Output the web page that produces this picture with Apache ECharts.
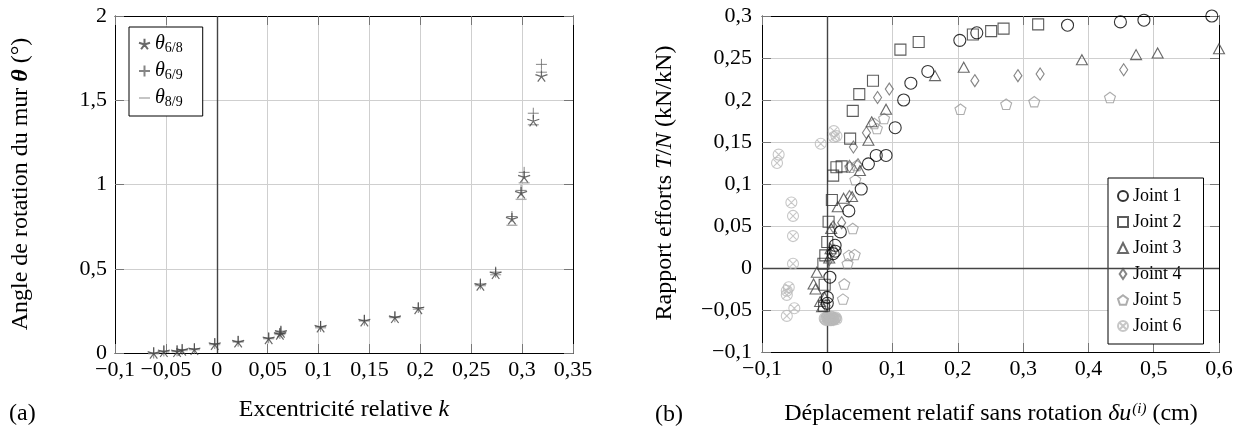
<!DOCTYPE html>
<html><head><meta charset="utf-8">
<script src="https://cdn.jsdelivr.net/npm/echarts@6/dist/echarts.min.js"></script>
<style>html,body{margin:0;padding:0;background:#fff}#c{width:1243px;height:429px}</style>
</head><body><div id="c"></div>
<script>
// ---------- Panel (a) data ----------
const kValues = [-0.062, -0.052, -0.039, -0.034, -0.022, -0.002, 0.021, 0.051, 0.062, 0.063, 0.102, 0.145, 0.175, 0.198, 0.259, 0.274, 0.290, 0.299, 0.302, 0.311, 0.319];
const theta68 = [0.000, 0.010, 0.010, 0.018, 0.022, 0.053, 0.067, 0.087, 0.113, 0.125, 0.156, 0.192, 0.212, 0.265, 0.404, 0.473, 0.797, 0.951, 1.046, 1.379, 1.644];
const theta69 = [0.000, 0.012, 0.013, 0.021, 0.026, 0.056, 0.070, 0.090, 0.116, 0.130, 0.158, 0.195, 0.215, 0.270, 0.410, 0.480, 0.810, 0.965, 1.072, 1.423, 1.713];
const theta89 = [-0.004, 0.006, 0.008, 0.015, 0.020, 0.050, 0.065, 0.085, 0.110, 0.120, 0.150, 0.190, 0.210, 0.260, 0.400, 0.465, 0.758, 0.912, 1.010, 1.355, 1.666];
const aXTicks = { min: -0.1, max: 0.35, interval: 0.05 };
const aYTicks = { min: 0, max: 2, interval: 0.5 };

// ---------- Panel (b) data ----------
const joint1 = [[0.000,-0.042],[0.000,-0.035],[0.004,-0.011],[0.009,0.017],[0.012,0.020],[0.012,0.027],[0.020,0.043],[0.033,0.068],[0.052,0.094],[0.063,0.124],[0.075,0.134],[0.090,0.134],[0.104,0.167],[0.117,0.200],[0.128,0.220],[0.154,0.234],[0.203,0.271],[0.229,0.280],[0.368,0.289],[0.449,0.293],[0.485,0.295],[0.589,0.300]];
const joint2 = [[-0.005,-0.045],[-0.004,-0.020],[-0.006,0.005],[-0.003,0.015],[0.000,0.031],[0.002,0.055],[0.007,0.081],[0.009,0.110],[0.014,0.120],[0.022,0.121],[0.035,0.154],[0.039,0.187],[0.049,0.207],[0.070,0.223],[0.112,0.260],[0.140,0.269],[0.223,0.278],[0.251,0.282],[0.270,0.285],[0.323,0.290]];
const joint3 = [[-0.008,-0.046],[-0.011,-0.040],[-0.004,-0.035],[-0.018,-0.025],[-0.021,-0.019],[-0.016,-0.005],[0.003,0.012],[0.005,0.023],[0.006,0.047],[0.016,0.073],[0.025,0.083],[0.038,0.085],[0.050,0.116],[0.063,0.152],[0.068,0.174],[0.090,0.189],[0.165,0.229],[0.209,0.239],[0.390,0.248],[0.473,0.254],[0.506,0.256],[0.600,0.261]];
const joint4 = [[-0.002,-0.045],[0.003,0.010],[0.010,0.021],[0.009,0.049],[0.022,0.054],[0.034,0.085],[0.034,0.121],[0.047,0.123],[0.040,0.144],[0.060,0.161],[0.077,0.203],[0.095,0.213],[0.226,0.223],[0.292,0.229],[0.326,0.231],[0.454,0.236]];
const joint5 = [[0.024,-0.037],[0.026,-0.019],[0.031,0.005],[0.033,0.015],[0.042,0.016],[0.039,0.047],[0.043,0.105],[0.035,0.120],[0.045,0.122],[0.072,0.172],[0.076,0.166],[0.087,0.178],[0.204,0.189],[0.274,0.195],[0.317,0.198],[0.433,0.203]];
const joint6 = [[-0.077,0.125],[-0.0745,0.135],[-0.010,0.148],[0.010,0.156],[0.010,0.163],[0.014,0.157],[-0.055,0.078],[-0.0525,0.062],[-0.0525,0.038],[-0.0525,0.005],[-0.059,-0.023],[-0.062,-0.027],[-0.062,-0.032],[-0.0505,-0.048],[-0.062,-0.057],
  [-0.004,-0.060],[-0.003,-0.061],[-0.002,-0.062],[-0.001,-0.059],[0.000,-0.059],[0.001,-0.061],[0.002,-0.061],[0.003,-0.060],[0.004,-0.060],[0.005,-0.062],[0.006,-0.062],[0.007,-0.060],[0.008,-0.059],[0.009,-0.061],[0.010,-0.061],[0.011,-0.060],[0.012,-0.060],[0.001,-0.058],[0.005,-0.058],[0.007,-0.058],[0.003,-0.062],[0.009,-0.062],[0.013,-0.059],[0.014,-0.061]];
const bXTicks = { min: -0.1, max: 0.6, interval: 0.1 };
const bYTicks = { min: -0.1, max: 0.3, interval: 0.05 };
const jointNames = ['Joint 1','Joint 2','Joint 3','Joint 4','Joint 5','Joint 6'];

// ---------- styling ----------
const FONT = '"Liberation Serif", "DejaVu Serif", serif';
const FS = 22;   // tick labels
const FT = 24;   // axis titles
function fmt(v){
  const r = +(+v).toFixed(3);
  if (r === 0) return '0';
  return (r < 0 ? '\u2212' : '') + String(Math.abs(r)).replace('.', ',');
}
const STAR = 'path://M0,0 L0,-10 M0,0 L9.51,-3.09 M0,0 L5.88,8.09 M0,0 L-5.88,8.09 M0,0 L-9.51,-3.09';
const PLUS = 'path://M5,0 L5,10 M0,5 L10,5';
const MINUS = 'path://M0,0 L10,0 L10,1.3 L0,1.3 Z';
const PENT = 'path://M0,-10 L9.51,-3.09 L5.88,8.09 L-5.88,8.09 L-9.51,-3.09 Z';
const DIAM = 'path://M0,-6 L4,0 L0,6 L-4,0 Z';
const OTIMES = 'path://M0,10 A10,10 0 1,1 20,10 A10,10 0 1,1 0,10 Z M2.93,2.93 L17.07,17.07 M17.07,2.93 L2.93,17.07';
const CLEAR = 'rgba(255,255,255,0)';

function axisCommon(t, showLabel, pos, margin){
  return {
    type: 'value', min: t.min, max: t.max, interval: t.interval, position: pos,
    axisLine: { show: true, onZero: false, lineStyle: { color: '#000', width: 1 } },
    axisTick: { show: true, inside: true, length: 9, lineStyle: { color: '#777', width: 1 } },
    axisLabel: { show: showLabel, formatter: fmt, fontFamily: FONT, fontSize: FS, color: '#000', margin: margin },
    splitLine: { show: showLabel, showMinLine: false, showMaxLine: false, lineStyle: { color: '#cfcfcf', width: 1 } }
  };
}

const zeroV = { silent: true, symbol: 'none', label: { show: false }, animation: false,
  lineStyle: { color: '#444', width: 1.4, type: 'solid' }, emphasis: { disabled: true }, data: [{ xAxis: 0 }] };
const zeroVH = { silent: true, symbol: 'none', label: { show: false }, animation: false,
  lineStyle: { color: '#444', width: 1.4, type: 'solid' }, emphasis: { disabled: true }, data: [{ xAxis: 0 }, { yAxis: 0 }] };

function zip(xs, ys){ return xs.map((x, i) => [x, ys[i]]); }

const jointStyles = [
  { symbol: 'circle', symbolSize: 12, border: '#000' },
  { symbol: 'rect', symbolSize: 11, border: '#333' },
  { symbol: 'triangle', symbolSize: [11, 10], border: '#444' },
  { symbol: DIAM, symbolSize: 12, border: '#666' },
  { symbol: PENT, symbolSize: 11, border: '#999' },
  { symbol: OTIMES, symbolSize: 11, border: '#b9b9b9' }
];
const jointData = [joint1, joint2, joint3, joint4, joint5, joint6];

const series = [
  { name: 't68', type: 'scatter', xAxisIndex: 0, yAxisIndex: 0, data: zip(kValues, theta68),
    symbol: STAR, symbolSize: 12, symbolKeepAspect: true, clip: false, z: 5,
    itemStyle: { color: CLEAR, borderColor: '#444', borderWidth: 1.2 }, markLine: zeroV },
  { name: 't69', type: 'scatter', xAxisIndex: 0, yAxisIndex: 0, data: zip(kValues, theta69),
    symbol: PLUS, symbolSize: 11, symbolKeepAspect: true, clip: false, z: 4,
    itemStyle: { color: CLEAR, borderColor: '#666', borderWidth: 1 } },
  { name: 't89', type: 'scatter', xAxisIndex: 0, yAxisIndex: 0, data: zip(kValues, theta89),
    symbol: MINUS, symbolSize: 11, symbolKeepAspect: true, clip: false, z: 3,
    itemStyle: { color: '#9a9a9a' } }
];
jointData.forEach((d, i) => {
  const s = jointStyles[i];
  series.push({ name: jointNames[i], type: 'scatter', xAxisIndex: 2, yAxisIndex: 2, data: d,
    symbol: s.symbol, symbolSize: s.symbolSize, symbolKeepAspect: true, clip: false, z: 10 - i,
    itemStyle: { color: CLEAR, borderColor: s.border, borderWidth: 1.1 },
    markLine: i === 0 ? zeroVH : undefined });
});

const option = {
  animation: false,
  backgroundColor: '#fff',
  grid: [
    { left: 115, width: 458, top: 16, height: 337 },
    { left: 762, width: 457, top: 16, height: 336 }
  ],
  xAxis: [
    Object.assign(axisCommon(aXTicks, true, 'bottom', 6), { gridIndex: 0 }),
    Object.assign(axisCommon(aXTicks, false, 'top', 6), { gridIndex: 0 }),
    Object.assign(axisCommon(bXTicks, true, 'bottom', 6), { gridIndex: 1 }),
    Object.assign(axisCommon(bXTicks, false, 'top', 6), { gridIndex: 1 })
  ],
  yAxis: [
    Object.assign(axisCommon(aYTicks, true, 'left', 8), { gridIndex: 0 }),
    Object.assign(axisCommon(aYTicks, false, 'right', 8), { gridIndex: 0 }),
    Object.assign(axisCommon(bYTicks, true, 'left', 10), { gridIndex: 1 }),
    Object.assign(axisCommon(bYTicks, false, 'right', 10), { gridIndex: 1 })
  ],
  legend: [
    { left: 129, top: 27, orient: 'vertical', data: ['t68', 't69', 't89'],
      itemWidth: 11, itemHeight: 11, itemGap: 6, padding: [7, 20, 7, 9],
      borderColor: '#000', borderWidth: 1, backgroundColor: '#fff', selectedMode: false,
      formatter: n => ({ t68: '{t|θ}{s|6/8}', t69: '{t|θ}{s|6/9}', t89: '{t|θ}{s|8/9}' }[n]),
      textStyle: { fontFamily: FONT, fontSize: 19, color: '#000', lineHeight: 20,
        rich: { t: { fontFamily: FONT, fontStyle: 'italic', fontSize: 20, lineHeight: 20 },
                s: { fontFamily: FONT, fontSize: 14, padding: [8, 0, 0, 0] } } } },
    { left: 1108, top: 178, orient: 'vertical', data: jointNames,
      itemWidth: 10, itemHeight: 10, itemGap: 8, padding: [9, 22, 9, 9],
      borderColor: '#000', borderWidth: 1, backgroundColor: '#fff', selectedMode: false,
      textStyle: { fontFamily: FONT, fontSize: 18, color: '#000', lineHeight: 17.5 } }
  ],
  graphic: [
    { type: 'text', x: 21, y: 184, rotation: Math.PI / 2, silent: true,
      style: { text: 'Angle de rotation du mur {b|θ} (°)', fontFamily: FONT, fontSize: FT, fill: '#000',
        align: 'center', verticalAlign: 'middle',
        rich: { b: { fontFamily: FONT, fontSize: FT, fontStyle: 'italic', fontWeight: 'bold' } } } },
    { type: 'text', x: 9, y: 414, silent: true,
      style: { text: '(a)', fontFamily: FONT, fontSize: FT, fill: '#000', align: 'left', verticalAlign: 'middle' } },
    { type: 'text', x: 344, y: 410, silent: true,
      style: { text: 'Excentricité relative {i|k}', fontFamily: FONT, fontSize: FT, fill: '#000',
        align: 'center', verticalAlign: 'middle',
        rich: { i: { fontFamily: FONT, fontSize: FT, fontStyle: 'italic' } } } },
    { type: 'text', x: 665, y: 183, rotation: Math.PI / 2, silent: true,
      style: { text: 'Rapport efforts {i|T}/{i|N} (kN/kN)', fontFamily: FONT, fontSize: FT, fill: '#000',
        align: 'center', verticalAlign: 'middle',
        rich: { i: { fontFamily: FONT, fontSize: FT, fontStyle: 'italic' } } } },
    { type: 'text', x: 655, y: 415, silent: true,
      style: { text: '(b)', fontFamily: FONT, fontSize: FT, fill: '#000', align: 'left', verticalAlign: 'middle' } },
    { type: 'text', x: 991, y: 414, silent: true,
      style: { text: 'Déplacement relatif sans rotation {i|δu}{p|(i)} (cm)', fontFamily: FONT, fontSize: FT, fill: '#000',
        align: 'center', verticalAlign: 'middle',
        rich: { i: { fontFamily: FONT, fontSize: FT, fontStyle: 'italic' },
                p: { fontFamily: FONT, fontSize: 15, fontStyle: 'italic', padding: [0, 0, 10, 1] } } } }
  ],
  series: series
};
const chart = echarts.init(document.getElementById('c'), null, { renderer: 'canvas' });
chart.setOption(option);
</script>
</body></html>
